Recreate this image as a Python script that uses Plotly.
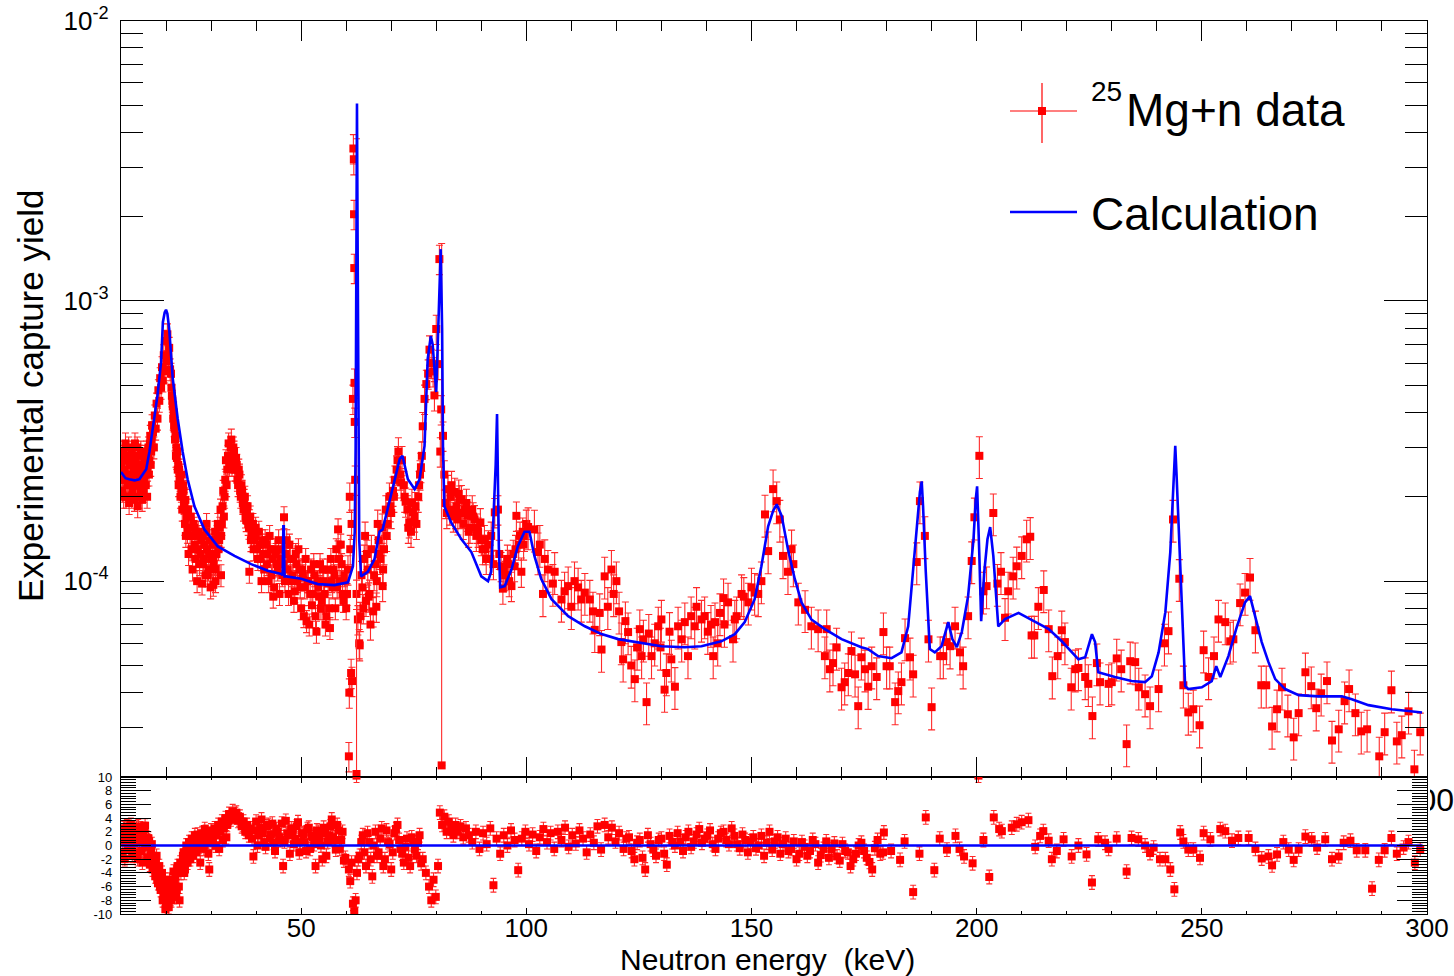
import math
import plotly.graph_objects as go

W, H = 1454, 976
FONT = "Liberation Sans, Arial, Helvetica, sans-serif"
RED = "#ff0000"
BLUE = "#0000ff"
SCALE = 1e-4  # yields below are given in units of 1e-4

# ---------------- measured capture yield (x 1e-4) ----------------
# 10 - 17 keV
e_a = [10.1, 10.3, 10.5, 10.7, 10.9, 11.1, 11.3, 11.5, 11.7, 11.9, 12.1, 12.3, 12.5, 12.7, 12.9,
       13.1, 13.3, 13.5, 13.7, 13.9, 14.1, 14.3, 14.5, 14.7, 14.9, 15.1, 15.3, 15.5, 15.7, 15.9,
       16.1, 16.3, 16.5, 16.7, 16.9,
       10.2, 10.4, 10.6, 10.8, 11.0, 11.2, 11.4, 11.6, 11.8, 12.0, 12.2, 12.4, 12.6, 12.8, 13.0,
       13.2, 13.4, 13.6, 13.8, 14.0, 14.2, 14.4, 14.6, 14.8, 15.0, 15.2, 15.4, 15.6, 15.8, 16.0,
       16.2, 16.4, 16.6, 16.8]
y_a = [2.6, 2.1, 2.9, 2.3, 2.7, 2.0, 2.8, 2.4, 3.0, 2.2, 2.6, 2.9, 2.1, 2.7, 2.4,
       3.1, 2.2, 2.6, 1.85, 2.5, 2.8, 2.1, 2.4, 1.95, 2.6, 2.3, 2.8, 2.2, 2.9, 2.5,
       3.0, 2.7, 3.3, 2.9, 3.6,
       2.3, 2.8, 2.0, 2.5, 3.1, 2.4, 2.2, 2.7, 1.9, 2.6, 2.3, 2.0, 2.8, 2.5, 1.95,
       2.7, 2.4, 3.0, 2.2, 2.0, 2.6, 2.9, 2.2, 2.5, 2.1, 2.7, 2.4, 2.6, 2.0, 2.8,
       2.4, 3.1, 2.6, 3.2]
# 17 - 21 keV
e_b = [17.1, 17.3, 17.5, 17.7, 17.9, 18.1, 18.3, 18.5, 18.7, 18.9, 19.1, 19.3, 19.5, 19.7, 19.9,
       20.1, 20.3, 20.5, 20.7, 20.9]
y_b = [3.4, 3.0, 3.9, 3.5, 4.3, 3.8, 4.8, 4.4, 5.3, 4.9, 5.8, 5.2, 6.4, 5.6, 7.2,
       6.1, 7.6, 6.4, 6.8, 5.7]
# 21 - 30 keV
e_c = [21.1, 21.3, 21.5, 21.7, 21.9, 22.1, 22.3, 22.5, 22.7, 22.9, 23.1, 23.3, 23.5, 23.7, 23.9,
       24.1, 24.3, 24.6, 24.9, 25.2, 25.5, 25.8, 26.1, 26.4, 26.7, 27.0, 27.3, 27.6, 27.9, 28.2,
       28.5, 28.8, 29.1, 29.4, 29.7, 30.0,
       24.4, 25.0, 25.9, 26.9, 28.0, 29.0, 29.9, 30.5, 31.0, 32.2, 38.5,
       21.2, 21.4, 21.6, 21.8, 22.0, 22.2, 22.4, 22.6, 22.8, 23.0, 23.2, 23.4, 23.6, 23.8, 24.0,
       24.2, 24.75, 25.35, 25.65, 26.25, 26.55, 27.15, 27.45, 28.05, 28.35, 28.95, 29.25, 29.55]
y_c = [5.5, 4.6, 4.2, 4.0, 3.5, 3.3, 3.0, 2.9, 2.6, 2.5, 2.3, 2.2, 2.4, 2.0, 2.1,
       1.8, 1.95, 1.7, 1.8, 1.55, 1.7, 1.45, 1.6, 1.35, 1.5, 1.3, 1.45, 1.25, 1.4, 1.15,
       1.35, 1.05, 1.3, 1.1, 1.4, 1.2,
       1.45, 1.25, 1.1, 1.0, 0.98, 1.6, 0.95, 0.97, 1.0, 1.05, 1.08,
       4.9, 4.4, 3.8, 3.6, 3.2, 2.8, 2.75, 2.5, 2.2, 2.35, 2.0, 2.1, 1.8, 2.2, 1.9,
       1.6, 1.5, 1.45, 1.3, 1.55, 1.2, 1.5, 1.15, 1.45, 1.2, 1.5, 1.05, 1.25]
# 30 - 40 keV
e_d = [30.3, 30.6, 30.9, 31.2, 31.5, 31.8, 32.1, 32.4, 32.7, 33.0, 33.3, 33.6, 33.9, 34.2, 34.5,
       34.8, 35.1, 35.4, 35.7, 36.0, 36.3, 36.6, 36.9, 37.2, 37.5, 37.8, 38.1, 38.4, 38.7, 39.0,
       39.3, 39.6, 39.9,
       30.45, 30.75, 31.05, 31.35, 31.65, 31.95, 32.25, 32.55, 32.85, 33.15, 33.45, 33.75, 34.05,
       34.35, 34.65, 34.95, 35.25, 35.55, 35.85, 36.15, 36.45, 36.75, 37.05, 37.35, 37.65, 37.95,
       38.25, 38.55, 38.85, 39.15, 39.45, 39.75]
y_d = [1.35, 1.15, 1.5, 1.25, 1.6, 1.4, 1.8, 1.6, 2.1, 2.0, 2.7, 2.5, 3.1, 2.7, 3.2,
       2.8, 2.9, 2.5, 2.6, 2.2, 2.4, 2.0, 2.1, 1.8, 2.0, 1.65, 1.85, 1.55, 1.7, 1.45,
       1.6, 1.4, 1.55,
       1.2, 1.4, 1.1, 1.45, 1.3, 1.55, 1.45, 1.85, 1.7, 2.3, 2.2, 2.8, 2.6,
       3.0, 2.6, 3.0, 2.5, 2.75, 2.3, 2.5, 2.1, 2.2, 1.9, 1.95, 1.7, 1.75,
       1.6, 1.65, 1.4, 1.5, 1.3, 1.45]
# 40 - 60 keV
e_e = [40.2, 40.6, 41.0, 41.4, 41.8, 42.2, 42.6, 43.0, 43.4, 43.8, 44.2, 44.6, 45.0, 45.4, 45.8,
       46.2, 46.6, 47.0, 47.4, 47.8, 48.2, 48.6, 49.0, 49.4, 49.8, 50.2, 50.6, 51.0, 51.4, 51.8,
       52.2, 52.6, 53.0, 53.4, 53.8, 54.2, 54.6, 55.0, 55.4, 55.8, 56.2, 56.6, 57.0, 57.4, 57.8,
       58.2, 58.6, 59.0, 59.4, 59.8, 60.2,
       40.4, 40.8, 41.2, 41.6, 42.0, 42.4, 42.8, 43.2, 43.6, 44.0, 44.4, 44.8, 45.2, 45.6, 46.0,
       46.4, 46.8, 47.2, 47.6, 48.0, 48.4, 48.8, 49.2, 49.6, 50.0, 50.4, 50.8, 51.2, 51.6, 52.0,
       52.4, 52.8, 53.2, 53.6, 54.0, 54.4, 54.8, 55.2, 55.6, 56.0, 56.4, 56.8, 57.2, 57.6, 58.0,
       58.4, 58.8, 59.2, 59.6, 60.0]
y_e = [1.3, 1.5, 1.2, 1.4, 1.1, 1.35, 1.25, 1.45, 1.05, 0.88, 1.3, 1.15, 1.4, 1.2, 1.05,
       1.69, 1.25, 1.1, 1.35, 1.0, 1.2, 0.92, 1.15, 1.3, 0.95, 1.1, 0.75, 1.2, 1.0, 0.7,
       1.1, 0.9, 1.05, 0.66, 0.95, 1.15, 0.85, 1.0, 0.7, 1.1, 0.8, 1.2, 0.95, 1.05, 1.3,
       1.53, 1.0, 1.15, 0.85, 1.0, 0.9,
       1.2, 1.35, 1.0, 1.25, 1.4, 1.15, 1.0, 1.3, 1.2, 0.95, 1.25, 1.1, 0.9, 1.3, 1.15,
       1.0, 1.4, 0.9, 1.2, 1.05, 0.85, 1.25, 1.0, 1.1, 0.8, 1.05, 0.95, 0.72, 1.0, 0.9,
       0.82, 1.15, 0.75, 1.0, 0.88, 0.8, 1.1, 0.9, 0.75, 0.98, 0.68, 1.0, 1.1, 0.8, 0.95,
       1.2, 1.35, 0.9, 1.05, 0.8]
# 60 - 63 keV (dip and narrow resonance)
e_f = [60.4, 60.6, 60.7, 60.8, 60.9, 61.1, 61.2, 61.3, 61.5, 61.6, 61.7, 61.75, 61.8, 61.85, 61.9,
       62.0, 62.3, 62.6, 62.9, 63.0]
y_f = [1.1, 0.237, 0.4, 2.0, 1.3, 0.47, 1.6, 0.44, 4.47, 35.0, 32.0, 20.4, 13.1, 5.1, 3.7,
       2.3, 0.9, 0.73, 0.6, 0.59]
# 63 - 82 keV
e_g = [63.2, 63.6, 64.0, 64.4, 64.8, 65.2, 65.6, 66.0, 66.4, 66.8, 67.2, 67.6, 68.0, 68.4, 68.8,
       69.2, 69.6, 70.0, 70.4, 70.8, 71.2, 71.6, 72.0, 72.4, 72.8, 73.2, 73.6, 74.0, 74.4, 74.8,
       75.2, 75.6, 76.0, 76.4, 76.8,
       65.0, 66.7, 68.1, 64.2, 67.0,
       63.4, 63.8, 64.6, 65.4, 66.2, 67.4, 68.2, 69.0, 69.8, 70.6, 71.4, 72.2, 73.0, 73.8, 74.6,
       75.4, 76.2, 76.6,
       77.0, 77.4, 77.8, 78.2, 78.5, 78.9, 79.3, 79.6, 80.0, 80.4, 80.7, 80.9, 81.1, 81.5, 81.8]
y_g = [0.75, 0.95, 1.2, 0.85, 1.1, 0.9, 1.3, 0.78, 1.15, 1.0, 1.4, 1.2, 1.55, 1.3, 1.8,
       1.6, 2.0, 1.75, 2.1, 2.3, 2.5, 2.9, 2.4, 2.7, 2.2, 1.92, 1.8, 1.62, 1.5, 1.76,
       1.7, 1.6, 2.0, 2.4, 2.8,
       0.88, 0.81, 0.96, 1.45, 1.6,
       1.05, 0.8, 1.25, 0.7, 1.05, 1.25, 1.1, 1.45, 1.85, 2.0, 2.7, 2.25, 2.0, 1.55, 1.9,
       1.85, 2.2, 2.55,
       3.57, 4.47, 5.05, 5.5, 6.7, 6.0, 5.6, 4.6, 7.94, 5.95, 14.1, 2.9, 4.1, 3.3, 2.4]
# 82 - 100 keV
e_h = [82.1, 82.6, 83.0, 83.4, 83.8, 84.1, 84.5, 84.8, 85.2, 85.6, 86.0, 86.4, 87.0, 87.5, 88.0,
       88.5, 88.9, 89.3, 89.8, 90.3, 90.7, 91.1, 91.6, 92.2, 92.7, 93.0, 93.7, 94.0, 94.4, 94.8,
       95.3, 95.8, 96.2, 96.7, 97.1, 97.4, 97.8, 98.3, 98.9, 99.2, 99.6, 100.0,
       82.35, 83.2, 84.3, 85.0, 85.8, 86.7, 87.2, 88.2, 89.1, 90.0, 90.9, 92.0, 95.0, 96.0, 97.6,
       98.6, 99.4]
y_h = [1.9, 2.13, 1.8, 2.2, 1.7, 2.08, 1.85, 1.66, 1.95, 1.96, 1.6, 1.8, 1.71, 1.55, 1.8,
       1.66, 1.45, 1.5, 1.62, 1.3, 1.41, 1.2, 1.35, 1.45, 1.15, 1.76, 1.8, 1.25, 1.13, 0.94,
       1.05, 1.2, 1.0, 0.96, 1.25, 1.13, 1.71, 1.35, 1.08, 1.5, 1.45, 1.6,
       1.75, 2.0, 1.75, 2.05, 1.75, 1.9, 1.5, 1.7, 1.55, 1.4, 1.3, 1.2, 1.1, 1.15, 1.3,
       1.45, 1.35]
# 100 - 145 keV
e_i = [100.4, 101.8, 102.6, 103.0, 103.7, 104.1, 104.8, 105.9, 106.3, 107.8, 108.5, 109.3, 110.0,
       110.7, 111.5, 112.2, 113.0, 114.1, 114.8, 115.2, 116.3, 116.7, 117.4, 118.1, 118.9, 119.4,
       120.0, 120.6, 121.1, 121.5, 122.0, 122.6, 123.3, 124.1, 124.6, 125.2, 125.6, 126.0, 126.7,
       127.2, 127.8, 128.5, 129.3, 129.8, 130.0, 130.7, 131.1, 131.8, 132.2, 133.0, 133.7, 134.5,
       135.2, 135.9, 136.6, 137.4, 137.8, 138.9, 139.6, 140.3, 141.5, 141.9, 142.5, 143.0, 144.0,
       141.0, 143.8, 146.3, 148.3, 150.0, 151.5]
y_i = [1.56, 1.53, 1.27, 1.35, 0.9, 1.2, 1.1, 0.98, 1.08, 0.86, 0.92, 0.96, 0.81,
       1.0, 0.95, 0.86, 0.91, 0.86, 0.78, 0.67, 0.77, 0.57, 1.04, 0.81, 1.1, 0.9,
       1.0, 0.78, 0.606, 0.526, 0.72, 0.658, 0.5, 0.447, 0.58, 0.674, 0.54, 0.62, 0.37,
       0.65, 0.54, 0.6, 0.69, 0.58, 0.73, 0.41, 0.47, 0.66, 0.526, 0.42, 0.69, 0.62,
       0.714, 0.54, 0.75, 0.69, 0.81, 0.73, 0.75, 0.66, 0.54, 0.714, 0.6, 0.77, 0.7,
       0.7, 0.87, 0.73, 0.88, 0.95, 0.9]
# 145 - 212 keV
e_j = [144.8, 145.9, 146.7, 147.8, 149.3, 150.7, 152.2, 153.0, 153.7, 154.8, 155.6, 156.3, 157.0,
       158.1, 158.9, 159.3, 160.4, 161.9, 163.3, 164.8, 166.3, 166.7, 167.4, 168.1, 168.9, 170.0,
       170.7, 171.5, 172.2, 173.0, 173.7, 174.4, 175.2, 175.9, 176.7, 177.8, 179.3, 180.0, 180.7,
       181.9, 182.6, 183.3, 184.1, 185.2, 185.9, 186.7, 187.4, 188.5, 189.3, 190.0, 191.9, 192.6,
       193.3, 194.1, 195.2, 196.3, 197.0, 198.1, 198.9, 199.5, 200.6, 201.5, 202.2, 203.7, 204.6,
       205.4, 206.3, 207.0, 208.1, 208.9, 210.0, 211.1, 211.9, 212.2]
y_j = [0.84, 0.62, 0.75, 0.9, 0.84, 0.91, 1.0, 1.73, 1.28, 2.13, 1.93, 1.66, 1.23,
       1.08, 1.3, 1.15, 0.84, 0.79, 0.69, 0.674, 0.54, 0.674, 0.485, 0.51, 0.58, 0.418,
       0.436, 0.47, 0.563, 0.465, 0.358, 0.535, 0.485, 0.42, 0.497, 0.455, 0.658, 0.497, 0.497,
       0.37, 0.405, 0.436, 0.626, 0.535, 0.465, 1.17, 1.93, 1.45, 0.62, 0.355, 0.54, 0.54,
       0.606, 0.586, 0.69, 0.557, 0.497, 0.75, 1.18, 1.69, 2.8, 0.92, 0.96, 1.75, 0.98,
       1.08, 0.74, 0.92, 1.04, 1.13, 1.23, 1.41, 1.44, 0.64]
# 212 - 248 keV
e_k = [212.8, 213.7, 214.9, 216.0, 216.8, 218.0, 218.9, 219.6, 221.0, 221.9, 222.6, 224.1, 224.8,
       225.7, 226.7, 227.4, 229.3, 230.0, 231.1, 232.1, 233.3, 234.1, 235.2, 236.0, 237.4, 238.5,
       240.4, 241.7, 242.6, 243.6, 245.0, 245.9, 247.0, 248.1]
y_k = [0.64, 0.81, 0.93, 0.674, 0.458, 0.54, 0.668, 0.606, 0.418, 0.485, 0.49, 0.455, 0.43,
       0.33, 0.51, 0.436, 0.43, 0.436, 0.53, 0.485, 0.262, 0.518, 0.514, 0.418, 0.395, 0.358,
       0.412, 0.6, 0.663, 1.66, 1.02, 0.425, 0.34, 0.349]
# 249 - 300 keV
e_l = [249.5, 250.4, 251.5, 252.7, 253.7, 255.2, 256.3, 257.0, 258.5, 259.6, 260.7, 261.9, 263.2,
       264.3, 265.6, 266.7, 267.8, 269.1, 270.4, 271.5, 273.0, 274.3, 275.4, 276.5, 277.8, 278.9,
       280.4, 281.7, 282.7, 284.1, 285.4, 286.7, 289.4, 290.6, 292.1, 293.3, 294.4, 295.9, 297.2,
       298.5]
y_l = [0.306, 0.567, 0.455, 0.54, 0.73, 0.714, 0.61, 0.62, 0.835, 0.91, 1.03, 0.668, 0.425,
       0.425, 0.303, 0.349, 0.418, 0.335, 0.277, 0.338, 0.473, 0.422, 0.352, 0.398, 0.44, 0.27,
       0.296, 0.373, 0.412, 0.338, 0.291, 0.296, 0.237, 0.289, 0.408, 0.268, 0.282, 0.343, 0.213,
       0.289]
# two bins with very large upward errors
outlier_energy = [62.3, 81.2]
outlier_yield = [0.205, 0.22]
outlier_err_up = [37.7, 15.8]

# ---------------- calculated yield (x 1e-4) ----------------
calc_energy = [10.0, 10.4, 11.0, 11.85, 13.0, 14.07, 15.0, 15.6, 16.3, 17.0, 17.6, 18.1, 18.9, 19.3,
               19.7, 20.0, 20.3, 20.7, 21.5, 22.6, 23.7, 24.8, 26.3, 28.5, 31.5, 35.2, 38.9, 42.6,
               45.6, 45.9, 46.05, 46.15, 46.3, 46.7, 50.0, 53.7, 57.4, 60.4, 61.5, 61.9, 62.1, 62.25,
               62.4, 62.55, 62.7, 62.9, 63.3, 64.8, 66.3, 67.4, 68.1, 69.3, 70.7, 71.9, 72.5, 73.7,
               75.2, 76.3, 77.4, 78.1, 78.8, 79.2, 80.0, 80.6, 81.0, 81.3, 81.5, 81.8, 83.3, 85.6,
               87.8, 90.0, 91.5, 92.2, 92.9, 93.2, 93.5, 93.7, 93.9, 94.2, 95.2, 96.7, 98.1, 99.6,
               100.7, 101.8, 103.3, 105.6, 109.3, 113.0, 116.7, 120.4, 124.1, 130.0, 135.2, 138.9,
               143.3, 146.3, 148.5, 150.7, 152.2, 153.7, 154.8, 155.6, 156.7, 158.1, 159.6, 161.1,
               163.3, 166.3, 170.0, 174.4, 175.9, 178.1, 181.1, 183.3, 184.8, 185.9, 186.9, 187.4,
               187.8, 188.1, 188.7, 189.6, 190.7, 192.2, 193.7, 194.6, 195.6, 196.7, 198.1, 199.3,
               199.8, 200.1, 200.6, 201.0, 201.7, 202.4, 203.0, 203.7, 204.8, 206.3, 209.3, 211.9,
               213.0, 216.0, 218.9, 222.6, 224.1, 225.6, 226.3, 227.0, 230.7, 234.4, 237.4, 238.9,
               240.4, 241.9, 243.0, 243.7, 244.1, 244.4, 245.2, 245.9, 246.3, 247.0, 250.0, 252.2,
               253.2, 254.1, 255.9, 257.8, 259.6, 260.7, 261.9, 263.3, 264.8, 266.3, 268.5, 271.5,
               275.9, 281.1, 283.3, 287.0, 292.2, 296.7, 298.9]
calc_yield = [2.45, 2.41, 2.33, 2.31, 2.29, 2.31, 2.42, 2.51, 2.89, 3.49, 4.0, 4.6, 6.05, 8.4,
              9.1, 9.3, 9.0, 7.94, 5.27, 3.79, 2.89, 2.31, 1.85, 1.53, 1.33, 1.23, 1.15, 1.09,
              1.06, 1.05, 1.57, 1.57, 1.04, 1.04, 1.02, 0.976, 0.968, 0.99, 1.13, 1.5, 3.0, 15.0,
              50.6, 15.0, 3.0, 1.4, 1.04, 1.08, 1.2, 1.5, 1.53, 1.85, 2.31, 2.73, 2.8, 2.31,
              2.13, 2.31, 3.04, 6.2, 7.5, 7.0, 4.73, 9.0, 15.3, 8.0, 3.0, 1.85, 1.62, 1.41,
              1.27, 1.04, 1.0, 1.08, 1.85, 2.6, 3.95, 2.0, 1.33, 0.95, 0.96, 1.1, 1.33, 1.5,
              1.5, 1.23, 1.02, 0.862, 0.75, 0.69, 0.647, 0.621, 0.606, 0.586, 0.581, 0.586,
              0.61, 0.647, 0.714, 0.862, 1.13, 1.57, 1.78, 1.88, 1.71, 1.3, 1.02, 0.84,
              0.73, 0.674, 0.621, 0.581, 0.572, 0.54, 0.531, 0.557, 0.69, 1.08, 1.62, 2.08,
              2.27, 1.85, 1.08, 0.572, 0.557, 0.586, 0.714, 0.621, 0.581, 0.658, 0.884, 1.41,
              1.96, 2.18, 1.23, 0.72, 1.08, 1.41, 1.56, 1.23, 0.69, 0.732, 0.77, 0.732,
              0.714, 0.674, 0.61, 0.526, 0.535, 0.647, 0.606, 0.473, 0.455, 0.44, 0.436, 0.458,
              0.557, 0.775, 1.27, 2.18, 3.04, 2.37, 1.1, 0.557, 0.422, 0.412, 0.418, 0.44,
              0.497, 0.455, 0.54, 0.69, 0.84, 0.884, 0.75, 0.606, 0.514, 0.447, 0.412, 0.392,
              0.388, 0.388, 0.379, 0.361, 0.349, 0.343, 0.34]

# ---------------- residuals (lower panel) ----------------
r_e1 = [10.1, 10.4, 10.7, 11.0, 11.3, 11.6, 11.9, 12.2, 12.5, 12.8, 13.1, 13.4, 13.7, 14.0, 14.3,
        14.6, 14.9, 15.2, 15.5, 15.8, 16.1, 16.4, 16.7, 17.0,
        10.25, 10.55, 10.85, 11.15, 11.45, 11.75, 12.05, 12.35, 12.65, 12.95, 13.25, 13.55, 13.85,
        14.15, 14.45, 14.75, 15.05, 15.35, 15.65, 15.95, 16.25, 16.55, 16.85]
r_v1 = [1.5, -1.0, 2.5, 0.5, 2.8, -0.5, 1.8, 3.0, -1.5, 2.2, 0.8, 2.6, -2.0, 1.2, 2.5,
        -0.8, 1.6, 2.4, 0.2, -1.8, 1.0, -2.8, -0.5, -3.5,
        0.5, 2.0, -2.0, 1.5, 0.0, 2.6, 1.0, -0.5, 2.0, 0.3, 1.8, -1.0, 2.8,
        0.6, 1.4, -2.5, 0.8, 2.9, 1.2, -0.2, 0.6, -1.5, 0.2]
r_e2 = [17.3, 17.6, 17.9, 18.2, 18.5, 18.8, 19.1, 19.4, 19.7, 20.0, 20.3, 20.6, 20.9, 21.2, 21.5,
        21.8, 22.1, 22.4, 22.7, 23.0, 23.3,
        17.45, 17.75, 18.05, 18.35, 18.65, 18.95, 19.25, 19.55, 19.85, 20.15, 20.45, 20.75, 21.05,
        21.35, 21.65, 21.95, 22.25, 22.55, 22.85, 23.15]
r_v2 = [-2.0, -4.5, -1.5, -5.5, -3.0, -6.5, -4.0, -7.5, -5.0, -8.5, -6.0, -9.0, -7.0, -8.0, -5.5,
        -7.5, -4.5, -6.5, -3.5, -8.0, -4.0,
        -3.0, -2.5, -5.0, -4.0, -6.0, -5.5, -8.0, -6.5, -9.3, -7.0, -8.5, -5.0, -7.8,
        -6.0, -3.8, -5.5, -7.0, -3.0, -6.0, -2.5]
r_e3 = [23.6, 23.9, 24.2, 24.5, 24.8, 25.1, 25.4, 25.7, 26.0, 26.4, 26.8, 27.2, 27.6, 28.0, 28.4,
        28.8, 29.2, 29.6, 30.0, 30.4,
        30.8, 31.2, 31.6, 32.0, 32.4, 32.8, 33.2, 33.6, 34.0, 34.4, 34.8, 35.2, 35.6, 36.0, 36.4,
        36.8, 37.2, 37.6, 38.0, 38.4, 31.0, 31.8, 32.6, 33.4,
        23.75, 24.05, 24.35, 24.65, 24.95, 25.25, 25.55, 25.85, 26.2, 26.6, 27.0, 27.4, 27.8, 28.2,
        28.6, 29.0, 29.4, 29.8, 30.2, 30.6, 31.4, 32.2, 33.0, 33.8, 34.6, 35.4, 36.2, 37.0, 37.8]
r_v3 = [-3.0, -1.0, -3.5, 0.0, -2.5, 0.5, -2.0, 1.0, -1.5, 1.5, -1.0, 0.8, -2.5, 1.8, -0.5,
        2.0, 0.5, -3.5, 2.2, 1.0,
        2.5, 1.5, 3.0, 2.0, 3.5, 2.5, 4.0, 3.0, 4.6, 3.8, 5.0, 4.2, 4.8, 3.6, 4.2,
        2.8, 3.5, 2.0, 3.0, 1.5, 0.0, -0.5, 0.8, 1.2,
        -1.5, -4.0, -1.0, -2.0, -0.5, -1.5, 0.2, -0.5, 0.8, 0.0, 1.6, -0.2, 1.0, 0.2,
        2.4, 1.0, -1.2, 1.6, 0.4, 1.8, 2.2, 2.8, 3.2, 3.6, 4.2, 4.6, 3.8, 3.0, 2.4]
r_e4 = [38.8, 39.4, 40.0, 40.6, 41.2, 41.8, 42.4, 43.0, 43.6, 44.2, 44.8, 45.4, 46.0, 46.6, 47.2,
        47.8, 48.4, 49.0, 49.6, 50.2, 50.8, 51.4, 52.0, 52.6, 53.2, 53.8, 54.4, 55.0, 55.6, 56.2,
        56.8, 57.4, 58.0, 58.6, 59.2, 59.8,
        39.1, 39.7, 40.3, 40.9, 41.5, 42.1, 42.7, 43.3, 43.9, 44.5, 45.1, 45.7, 46.3, 46.9, 47.5,
        48.1, 48.7, 49.3, 49.9, 50.5, 51.1, 51.7, 52.3, 52.9, 53.5, 54.1, 54.7, 55.3, 55.9, 56.5,
        57.1, 57.7, 58.3, 58.9, 59.5]
r_v4 = [2.5, -1.6, 3.5, 1.5, 3.8, 0.5, 2.8, 1.0, 3.2, -0.8, 2.0, 0.8, -3.0, 3.6, 1.5,
        2.5, 0.2, 2.8, -1.0, 1.8, 0.5, 2.4, -0.5, 1.2, -3.0, 2.0, 0.0, 2.6, -1.5, 1.5,
        3.8, 0.8, 3.0, -0.5, 2.0, -1.8,
        1.0, 2.2, 0.0, 2.6, 1.8, -0.2, 3.0, 1.6, 0.4, 2.4, 1.2, 3.2, 0.6, 1.8, -1.2,
        2.0, 1.0, 3.4, 0.5, 1.6, -0.8, 2.6, 1.4, 0.2, 2.2, 1.0, -2.0, 1.8, 0.6, 2.8,
        1.2, -0.6, 2.2, 0.8, -2.2]
r_e5 = [60.6, 60.9, 61.2, 61.5, 61.8, 62.1, 62.4, 62.7, 62.3,
        63.0, 63.7, 64.4, 65.1, 65.8, 66.5, 67.2, 67.9, 68.6, 69.3, 70.0, 70.7, 71.4, 72.1, 72.8,
        73.5, 74.2, 74.9, 75.6, 76.3, 77.0, 77.7, 78.4, 78.9, 79.4, 79.9, 80.4,
        63.35, 64.05, 64.75, 65.45, 66.15, 66.85, 67.55, 68.25, 68.95, 69.65, 70.35, 71.05, 71.75,
        72.45, 73.15, 73.85, 74.55, 75.25, 75.95, 76.65]
r_v5 = [-3.5, -5.2, -2.5, -8.5, -9.6, -8.0, -4.0, -2.0, 10.2,
        -1.5, 1.5, -3.0, 0.5, -4.5, 2.0, -1.0, 2.5, -2.0, 0.5, -3.5, 1.8, 3.0, -0.5, -2.5,
        1.0, -3.0, 0.5, -1.5, 1.5, -2.0, -4.0, -6.0, -8.0, -5.0, -7.5, -3.0,
        0.5, -1.0, 1.8, -2.0, 0.0, -1.5, 1.0, -3.0, 2.2, 0.2, -1.0, 2.4, 0.8,
        -1.2, -0.2, -1.8, 1.2, -0.6, 0.4, -2.6]
r_e6 = [80.8, 81.3, 81.8, 82.3, 82.8, 83.3, 83.8, 84.3, 84.8, 85.4, 86.0, 86.6,
        87.2, 88.0, 88.8, 89.6, 90.4, 91.2, 92.0, 92.7, 93.4, 94.2, 95.0, 95.8, 96.6, 97.4, 98.2,
        99.0, 99.8, 100.6, 101.4, 102.2, 103.0, 103.8, 104.6, 105.4, 106.2, 107.0, 107.8, 108.6,
        109.4, 110.2, 111.0, 111.8, 112.6, 113.4, 114.2, 115.0, 115.8, 116.6, 117.4, 118.2, 119.0,
        119.8, 120.6]
r_v6 = [4.8, 3.0, 4.2, 2.0, 3.5, 2.5, 1.5, 3.0, 2.0, 2.8, 1.2, 2.5,
        1.5, 0.5, 2.0, -0.5, 1.8, 0.2, 2.5, -5.8, 1.0, -1.2, 1.5, 0.0, 2.2, 0.8, -3.6,
        1.0, 2.0, 0.2, 1.6, -0.8, 1.2, 2.4, 0.5, 1.8, -0.5, 2.0, 0.8, 2.6,
        -0.2, 1.5, 0.3, 2.2, 1.0, -1.0, 1.6, 0.4, 2.8, -0.6, 3.0, 1.2, 2.6,
        0.6, 1.8]
r_e7 = [121.6, 122.8, 124.0, 125.2, 126.4, 127.6, 128.8, 130.0, 131.2, 132.4, 133.6, 134.8, 136.0,
        137.2, 138.4, 139.6, 140.8, 142.0, 143.2, 144.4, 145.6, 146.8, 148.0, 149.2, 150.4, 151.6,
        152.8, 154.0, 155.2, 156.4, 157.6, 158.8, 160.0, 161.2, 162.4, 163.6, 164.8, 166.0, 167.2,
        168.4, 169.6, 170.8, 172.0, 173.2, 174.4, 175.6, 176.8, 178.0, 179.2,
        122.2, 123.4, 124.6, 125.8, 127.0, 128.2, 129.4, 130.6, 131.8, 133.0, 134.2, 135.4, 136.6,
        137.8, 139.0, 140.2, 141.4, 142.6, 143.8, 145.0, 146.2, 147.4, 148.6, 149.8, 151.0, 152.2,
        153.4, 154.6, 155.8, 157.0, 158.2, 159.4, 160.6, 161.8, 163.0, 164.2, 165.4, 166.6, 167.8,
        169.0, 170.2, 171.4, 172.6, 173.8, 175.0, 176.2, 177.4, 178.6]
r_v7 = [-0.5, 1.2, -2.0, 0.8, -3.5, 0.2, -1.5, 1.0, -2.8, 0.5, 1.8, -0.8, 2.0,
        0.6, 2.4, 1.0, 2.2, -0.5, 1.8, 0.8, 2.5, 0.2, 1.6, -1.0, 1.2, 0.0,
        -1.5, 2.0, 0.6, -1.2, 1.0, -0.5, -2.0, 0.5, -1.5, 0.8, -2.5, -0.5, -1.8,
        0.3, -2.2, -0.8, -3.0, -1.2, 0.4, -1.8, -3.5, 0.8, -1.0,
        1.0, -0.8, 0.4, -1.8, 1.5, -0.6, 0.8, -1.2, 1.4, 0.0, 0.6, 1.2, -0.2,
        1.6, 0.4, 1.4, 0.2, 1.0, 2.0, 0.2, 1.4, -0.4, 0.8, 0.6, -0.4, 1.4,
        0.4, -0.6, 1.2, 0.2, -0.8, 0.6, -1.2, -0.2, -0.8, 0.2, -1.4, 0.6, -0.6,
        -1.6, 0.2, -1.0, -2.0, 0.0, -0.8, -2.4, -0.4, -1.2]
r_e8 = [179.4, 181.0, 183.0, 184.0, 185.9, 187.3, 188.7, 190.6, 191.8, 193.4, 195.3, 196.2, 197.2,
        199.1, 200.4, 201.5, 202.8, 203.8, 205.0,
        205.6, 207.8, 208.9, 210.0, 211.5, 213.0, 214.1, 214.8, 216.0, 216.7, 217.8, 219.3, 221.1,
        222.6, 224.4, 225.6, 227.0, 228.5, 229.3, 231.1, 233.3, 234.4, 235.9, 237.4, 238.5, 239.3,
        240.7, 241.9, 243.0, 243.9, 245.2, 245.9, 247.0, 248.1, 249.6, 250.4, 251.9, 254.1, 255.2,
        256.7, 258.1, 260.4, 261.9, 263.3, 264.8, 265.6, 266.7, 268.1, 269.3, 270.4, 271.5, 273.0,
        274.4, 275.6, 277.4, 278.9, 280.4, 281.5, 283.0, 284.4, 286.3, 287.8, 289.3, 290.6, 292.1,
        293.3, 294.8, 295.9, 297.3, 298.5]
r_v8 = [1.9, -0.8, -2.1, 0.6, -6.8, -1.2, 4.1, -3.6, 1.0, -0.6, 1.4, -0.5, -1.6,
        -2.6, 10.2, 0.8, -4.6, 4.1, 2.4,
        2.1, 2.6, 3.1, 3.4, 3.7, -0.2, 1.4, 2.1, 0.7, -2.0, -0.8, 0.9, -1.6,
        0.0, -1.3, -5.4, 0.9, 0.4, -0.5, 1.0, -3.8, 1.1, 0.9, 0.0, -1.1, -0.3,
        -2.0, -2.0, -3.5, -6.4, 1.9, 0.6, -0.6, -0.6, -1.8, 1.8, 0.9, 2.4, 2.1,
        0.7, 1.1, 1.1, -0.5, -1.9, -1.6, -2.9, -1.3, 0.5, -0.6, -2.1, -0.6, 1.3,
        0.9, -0.3, 0.9, -2.0, -1.6, 0.4, 0.7, -0.7, -0.7, -6.3, -2.1, -0.7, 1.1,
        -1.2, -0.3, 0.5, -2.5, -0.6]
zero_line_energy = [10.0, 299.0]
zero_line_value = [0.0, 0.0]

# ---------------- axis ticks ----------------
x_major_ticks = [50, 100, 150, 200, 250, 300]
x_tick_labels = ["50", "100", "150", "200", "250", "300"]
x_minor_ticks = [v for v in range(20, 300, 10) if v % 50]
y_major_ticks = [1e-4, 1e-3, 1e-2]
y_tick_labels = ["10<sup>-4</sup>", "10<sup>-3</sup>", "10<sup>-2</sup>"]
y_minor_ticks = [m * 10.0 ** k for k in (-5, -4, -3) for m in range(2, 10) if m * 10.0 ** k > 2.01e-5]
r_major_ticks = [10, 8, 6, 4, 2, 0, -2, -4, -6, -8, -10]
r_tick_labels = ["10", "8", "6", "4", "2", "0", "-2", "-4", "-6", "-8", "-10"]

fig = go.Figure()


def scaled(vals):
    return [v * SCALE for v in vals]


def add_data(E, Y, pct):
    fig.add_trace(go.Scatter(
        x=E, y=scaled(Y), mode="markers", xaxis="x", yaxis="y",
        marker=dict(symbol="square", size=8, color=RED, line=dict(width=0)),
        error_y=dict(type="percent", value=pct, color="#ff2a2a", thickness=1.1, width=3.5),
        showlegend=False, hoverinfo="skip"))


add_data(e_a + e_b + e_c + e_d + e_e, y_a + y_b + y_c + y_d + y_e, 9)
add_data(e_f + e_g + e_h, y_f + y_g + y_h, 12)
add_data(e_i + e_j + e_k + e_l, y_i + y_j + y_k + y_l, 17)
fig.add_trace(go.Scatter(
    x=outlier_energy, y=scaled(outlier_yield), mode="markers", xaxis="x", yaxis="y",
    marker=dict(symbol="square", size=8, color=RED, line=dict(width=0)),
    error_y=dict(type="data", symmetric=False, array=scaled(outlier_err_up),
                 arrayminus=[0, 0], color="#ff2a2a", thickness=1.1, width=3.5),
    showlegend=False, hoverinfo="skip"))
fig.add_trace(go.Scatter(
    x=calc_energy, y=scaled(calc_yield), mode="lines", xaxis="x", yaxis="y",
    line=dict(color=BLUE, width=2.6), showlegend=False, hoverinfo="skip"))

res_e = r_e1 + r_e2 + r_e3 + r_e4 + r_e5 + r_e6 + r_e7 + r_e8
res_v = r_v1 + r_v2 + r_v3 + r_v4 + r_v5 + r_v6 + r_v7 + r_v8
fig.add_trace(go.Scatter(
    x=res_e, y=res_v, mode="markers", xaxis="x2", yaxis="y2",
    marker=dict(symbol="square", size=8, color=RED, line=dict(width=0)),
    error_y=dict(type="constant", value=1.0, color="#ff2a2a", thickness=1.1, width=3),
    showlegend=False, hoverinfo="skip"))
fig.add_trace(go.Scatter(
    x=zero_line_energy, y=zero_line_value, mode="lines", xaxis="x2", yaxis="y2",
    line=dict(color=BLUE, width=2.6), showlegend=False, hoverinfo="skip"))

XL, XR = 121 / W, 1427 / W
TOP_T, TOP_B, BOT_B = 1 - 20.7 / H, 1 - 777 / H, 1 - 914 / H

axis_common = dict(showline=True, linecolor="black", linewidth=1.4, mirror="allticks",
                   ticks="inside", tickcolor="black", tickwidth=1.2, showgrid=False,
                   zeroline=False, automargin=False)

fig.update_layout(
    width=W, height=H, autosize=False,
    margin=dict(l=0, r=0, t=0, b=0, pad=0, autoexpand=False),
    paper_bgcolor="white", plot_bgcolor="white", showlegend=False,
    font=dict(family=FONT, color="black"),
    xaxis=dict(domain=[XL, XR], range=[10, 300], anchor="y", tickmode="array",
               tickvals=x_major_ticks, ticklen=20, showticklabels=False,
               minor=dict(ticks="inside", tickmode="array", tickvals=x_minor_ticks, ticklen=10,
                          tickcolor="black", tickwidth=1.2, showgrid=False),
               **axis_common),
    yaxis=dict(domain=[TOP_B, TOP_T], type="log", range=[math.log10(2e-5), -2], anchor="x",
               tickmode="array", tickvals=y_major_ticks, ticktext=y_tick_labels, ticklen=43,
               tickfont=dict(size=26, family=FONT), ticklabelstandoff=6,
               minor=dict(ticks="inside", tickmode="array", tickvals=y_minor_ticks, ticklen=22,
                          tickcolor="black", tickwidth=1.2, showgrid=False),
               **axis_common),
    xaxis2=dict(domain=[XL, XR], range=[10, 300], anchor="y2", tickmode="array",
                tickvals=x_major_ticks, ticktext=x_tick_labels, ticklen=6,
                tickfont=dict(size=26, family=FONT), ticklabelstandoff=-9,
                minor=dict(ticks="inside", tickmode="array", tickvals=x_minor_ticks, ticklen=3,
                           tickcolor="black", tickwidth=1.2, showgrid=False),
                **axis_common),
    yaxis2=dict(domain=[BOT_B, TOP_B], range=[-10, 10], anchor="x2", tickmode="array",
                tickvals=r_major_ticks, ticktext=r_tick_labels, ticklen=30,
                tickfont=dict(size=13, family=FONT), ticklabelstandoff=5,
                minor=dict(ticks="inside", dtick=0.4, tick0=0, ticklen=15,
                           tickcolor="black", tickwidth=1.2, showgrid=False),
                **axis_common),
)


def px(x):
    return x / W


def py(y):
    return 1 - y / H


ann = [
    dict(text="Neutron energy\u00a0 (keV)", x=px(767), y=py(941), xanchor="center", yanchor="top",
         font=dict(size=30, family=FONT)),
    dict(text="Experimental capture yield", x=px(30), y=py(396), xanchor="center",
         yanchor="middle", textangle=-90, font=dict(size=35, family=FONT)),
    dict(text="25", x=px(1089), y=py(91), xanchor="left", yanchor="middle",
         font=dict(size=28, family=FONT)),
    dict(text="Mg+n data", x=px(1124), y=py(110), xanchor="left", yanchor="middle",
         font=dict(size=46, family=FONT)),
    dict(text="Calculation", x=px(1089), y=py(214), xanchor="left", yanchor="middle",
         font=dict(size=46, family=FONT)),
    # upper-pad "300" label peeking out to the right of the lower pad
    dict(text="300", x=px(1429), y=py(800), xanchor="left", yanchor="middle",
         width=24, align="right", borderpad=0, font=dict(size=32, family=FONT)),
]
for a in ann:
    a.update(xref="paper", yref="paper", showarrow=False)
fig.update_layout(annotations=ann)

shapes = [
    dict(type="line", x0=px(1042), x1=px(1042), y0=py(83), y1=py(143),
         line=dict(color=RED, width=1.2)),
    dict(type="line", x0=px(1010), x1=px(1077), y0=py(111), y1=py(111),
         line=dict(color=RED, width=1.2)),
    dict(type="rect", x0=px(1038), x1=px(1046), y0=py(107), y1=py(115),
         line=dict(width=0), fillcolor=RED),
    dict(type="line", x0=px(1010), x1=px(1077), y0=py(212), y1=py(212),
         line=dict(color=BLUE, width=2.6)),
]
for s in shapes:
    s.update(xref="paper", yref="paper")
fig.update_layout(shapes=shapes)

fig.write_html("out.html")
